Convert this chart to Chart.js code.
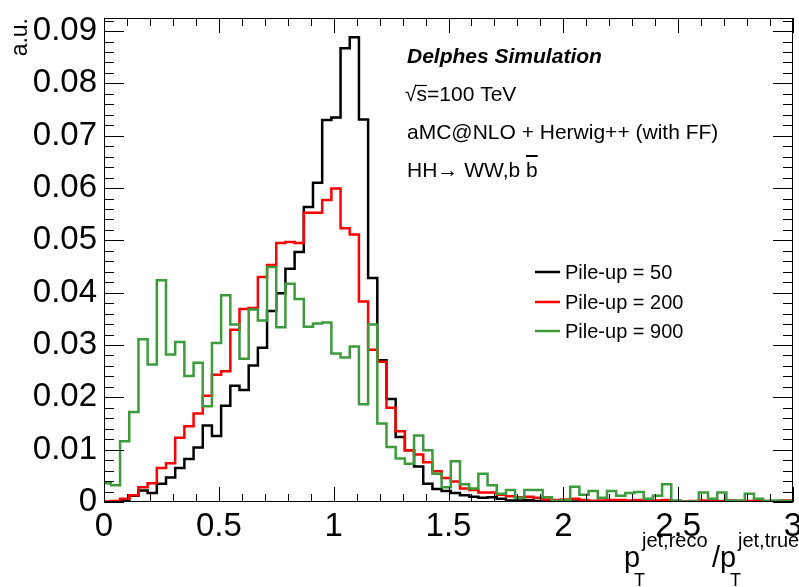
<!DOCTYPE html>
<html>
<head>
<meta charset="utf-8">
<script src="https://cdn.jsdelivr.net/npm/chart.js@4.4.1/dist/chart.umd.min.js"></script>
<style>
  html, body { margin: 0; padding: 0; background: #fff; }
</style>
</head>
<body>
<canvas id="myChart" width="799" height="587"></canvas>
<script>
const ctx = document.getElementById('myChart').getContext('2d');
const FONT = '"Liberation Sans", Arial, Helvetica, sans-serif';

const seriesLabels = ["Pile-up = 50", "Pile-up = 200", "Pile-up = 900"]
const seriesColors = ["#000000", "#ff0000", "#3d9b3d"]

const xTickValues = [0, 0.5, 1, 1.5, 2, 2.5, 3]
const xTickLabels = ["0", "0.5", "1", "1.5", "2", "2.5", "3"]
const yTickValues = [0, 0.01, 0.02, 0.03, 0.04, 0.05, 0.06, 0.07, 0.08, 0.09]
const yTickLabels = ["0", "0.01", "0.02", "0.03", "0.04", "0.05", "0.06", "0.07", "0.08", "0.09"]

// first bin is cut at 0, then 0.04 wide bins starting at 0.03
const binEdges = [0]
for (let k = 0; k <= 75; k++) binEdges.push(Math.min(3, +(0.03 + 0.04 * k).toFixed(2)))

const pu50 = [0, 0.0001, 0.0003, 0.0012, 0.0022, 0.0017, 0.0035, 0.0047, 0.0065, 0.0082,
  0.0104, 0.0146, 0.0126, 0.0184, 0.0222, 0.0214, 0.0261, 0.0295, 0.0365, 0.0399,
  0.0446, 0.0478, 0.0564, 0.0610, 0.0730, 0.0735, 0.0867, 0.0888, 0.0731, 0.0428,
  0.0271, 0.0197, 0.0124, 0.0099, 0.0068, 0.0035, 0.0025, 0.0021, 0.0017, 0.0013,
  0.0010, 0.0008, 0.0009, 0.0006, 0.0003, 0.0003, 0.0004, 0.0002, 0.0002, 0.0001,
  0.0002, 0.0001, 0.0001, 0.0002, 0.0001, 0.0001, 0.0001, 0.0001, 0, 0.0001,
  0.0001, 0.0001, 0.0001, 0, 0.0001, 0, 0.0001, 0, 0.0001, 0,
  0, 0.0001, 0, 0, 0, 0]

const pu200 = [0.0001, 0.0002, 0.0006, 0.0013, 0.0028, 0.0036, 0.0065, 0.0074, 0.0123, 0.0145,
  0.0169, 0.0203, 0.0243, 0.0250, 0.0329, 0.0369, 0.0371, 0.0430, 0.0453, 0.0495,
  0.0497, 0.0495, 0.0553, 0.0553, 0.0577, 0.0599, 0.0523, 0.0511, 0.0383, 0.0291,
  0.0268, 0.0180, 0.0135, 0.0099, 0.0091, 0.0076, 0.0059, 0.0046, 0.0039, 0.0026,
  0.0023, 0.0018, 0.0018, 0.0014, 0.0011, 0.0009, 0.0010, 0.0008, 0.0005, 0.0004,
  0.0005, 0.0006, 0.0004, 0.0002, 0.0003, 0.0004, 0.0004, 0.0003, 0.0004, 0.0004,
  0.0003, 0.0004, 0.0002, 0.0001, 0.0002, 0.0003, 0.0003, 0.0002, 0.0003, 0.0002,
  0.0002, 0.0003, 0.0002, 0.0001, 0.0003, 0.0002]

const pu900 = [0.0036, 0.0032, 0.0116, 0.0172, 0.0311, 0.0263, 0.0424, 0.0282, 0.0306, 0.0241,
  0.0266, 0.0183, 0.0304, 0.0395, 0.0339, 0.0274, 0.0368, 0.0347, 0.0449, 0.0334,
  0.0417, 0.0388, 0.0335, 0.0341, 0.0343, 0.0284, 0.0276, 0.0297, 0.0187, 0.0339,
  0.0150, 0.0105, 0.0083, 0.0073, 0.0127, 0.0099, 0.0054, 0.0028, 0.0078, 0.0034,
  0.0026, 0.0054, 0.0032, 0.0016, 0.0023, 0.0008, 0.0023, 0.0023, 0.0009, 0.0002,
  0.0004, 0.0029, 0.0014, 0.0021, 0.0008, 0.0021, 0.0012, 0.0017, 0.0019, 0.0006,
  0.0012, 0.0034, 0.0003, 0.0001, 0.0001, 0.0018, 0.0006, 0.0018, 0.0003, 0.0003,
  0.0016, 0.0006, 0.0002, 0.0003, 0.0002, 0.0003]

function steps(vals) {
  const pts = vals.map((v, i) => ({ x: binEdges[i], y: v }))
  pts.push({ x: binEdges[vals.length], y: vals[vals.length - 1] })
  return pts
}

// ROOT-like frame: ticks inside on all four sides, labels and text drawn by hand
const rootFrame = {
  id: 'rootFrame',
  afterDatasetsDraw(chart) {
    const { ctx, chartArea: a, scales: { x, y } } = chart
    ctx.save()
    ctx.strokeStyle = '#000'
    ctx.lineWidth = 1
    ctx.strokeRect(a.left + 0.5, a.top + 0.5, a.right - a.left - 1, a.bottom - a.top - 1)
    ctx.beginPath()
    for (let i = 0; i <= 30; i++) {
      const px = Math.round(x.getPixelForValue(i / 10)) + 0.5
      const len = i % 5 === 0 ? 15 : 8
      ctx.moveTo(px, a.bottom); ctx.lineTo(px, a.bottom - len)
      ctx.moveTo(px, a.top); ctx.lineTo(px, a.top + len)
    }
    for (let i = 0; i <= 46; i++) {
      const py = Math.round(y.getPixelForValue(i * 0.002)) + 0.5
      const len = i % 5 === 0 ? 20 : 10
      ctx.moveTo(a.left, py); ctx.lineTo(a.left + len, py)
      ctx.moveTo(a.right, py); ctx.lineTo(a.right - len, py)
    }
    ctx.stroke()
    ctx.restore()
  },
  afterDraw(chart) {
    const { ctx } = chart
    ctx.save()
    ctx.fillStyle = '#000'
    ctx.strokeStyle = '#000'
    ctx.textBaseline = 'alphabetic'
    ctx.textAlign = 'left'

    // y title
    ctx.save()
    ctx.translate(27, 18)
    ctx.rotate(-Math.PI / 2)
    ctx.textAlign = 'right'
    ctx.font = '23px ' + FONT
    ctx.fillText('a.u.', 0, 0)
    ctx.restore()

    // x title p_T^{jet,reco}/p_T^{jet,true}
    ctx.font = '29px ' + FONT
    ctx.fillText('p', 624, 567)
    ctx.fillText('/p', 712, 567)
    ctx.font = '20px ' + FONT
    ctx.fillText('jet,reco', 642, 547)
    ctx.fillText('jet,true', 738, 547)
    ctx.font = '18px ' + FONT
    ctx.fillText('T', 634, 586)
    ctx.fillText('T', 730, 586)

    // annotation block
    ctx.font = 'italic bold 21px ' + FONT
    ctx.fillText('Delphes Simulation', 407, 63)
    ctx.font = '21px ' + FONT
    const rw = ctx.measureText('\u221A').width
    ctx.fillText('\u221A', 405, 101)
    ctx.fillText('s=100 TeV', 405 + rw, 101)
    const sw = ctx.measureText('s').width
    ctx.lineWidth = 1.2
    ctx.beginPath()
    ctx.moveTo(405 + rw - 1, 85.5); ctx.lineTo(405 + rw + sw, 85.5)
    ctx.stroke()
    ctx.fillText('aMC@NLO + Herwig++ (with FF)', 407, 139)
    const hh = 'HH\u2192 WW,b '
    ctx.fillText(hh + 'b', 407, 177)
    const hw = ctx.measureText(hh).width
    const bw = ctx.measureText('b').width
    ctx.lineWidth = 2
    ctx.beginPath()
    ctx.moveTo(407 + hw, 156); ctx.lineTo(407 + hw + bw, 156)
    ctx.stroke()

    // legend
    ctx.font = '20px ' + FONT
    const rows = [279, 309, 338]
    seriesLabels.forEach((lab, i) => {
      ctx.strokeStyle = seriesColors[i]
      ctx.lineWidth = 2.5
      ctx.beginPath()
      ctx.moveTo(535, rows[i] - 7); ctx.lineTo(560, rows[i] - 7)
      ctx.stroke()
      ctx.fillText(lab, 565, rows[i])
    })
    ctx.restore()
  }
}

const myChart = new Chart(ctx, {
  type: 'line',
  data: {
    datasets: [pu50, pu200, pu900].map((vals, i) => ({
      label: seriesLabels[i],
      data: steps(vals),
      borderColor: seriesColors[i],
      borderWidth: 2.5,
      stepped: 'before',
      pointRadius: 0,
      fill: false,
      order: 3 - i
    }))
  },
  options: {
    responsive: false,
    animation: false,
    layout: { padding: { left: 0, right: 6, top: 18, bottom: 0 }, autoPadding: false },
    plugins: { legend: { display: false }, tooltip: { enabled: false } },
    scales: {
      x: {
        type: 'linear',
        min: 0,
        max: 3,
        grid: { display: false, drawTicks: false },
        border: { display: false },
        afterBuildTicks: (s) => { s.ticks = xTickValues.map(v => ({ value: v })) },
        afterFit: (s) => { s.height = 85; s.paddingLeft = 0; s.paddingRight = 0 },
        ticks: {
          callback: (v, i) => xTickLabels[i],
          font: { family: FONT, size: 33 },
          color: '#000',
          padding: 5,
          maxRotation: 0,
          autoSkip: false
        }
      },
      y: {
        type: 'linear',
        min: 0,
        max: 0.0925,
        grid: { display: false, drawTicks: false },
        border: { display: false },
        afterBuildTicks: (s) => { s.ticks = yTickValues.map(v => ({ value: v })) },
        afterFit: (s) => { s.width = 104; s.paddingTop = 0; s.paddingBottom = 0 },
        ticks: {
          callback: (v, i) => yTickLabels[i],
          font: { family: FONT, size: 33 },
          color: '#000',
          padding: 7,
          autoSkip: false
        }
      }
    }
  },
  plugins: [rootFrame]
})
</script>
</body>
</html>
